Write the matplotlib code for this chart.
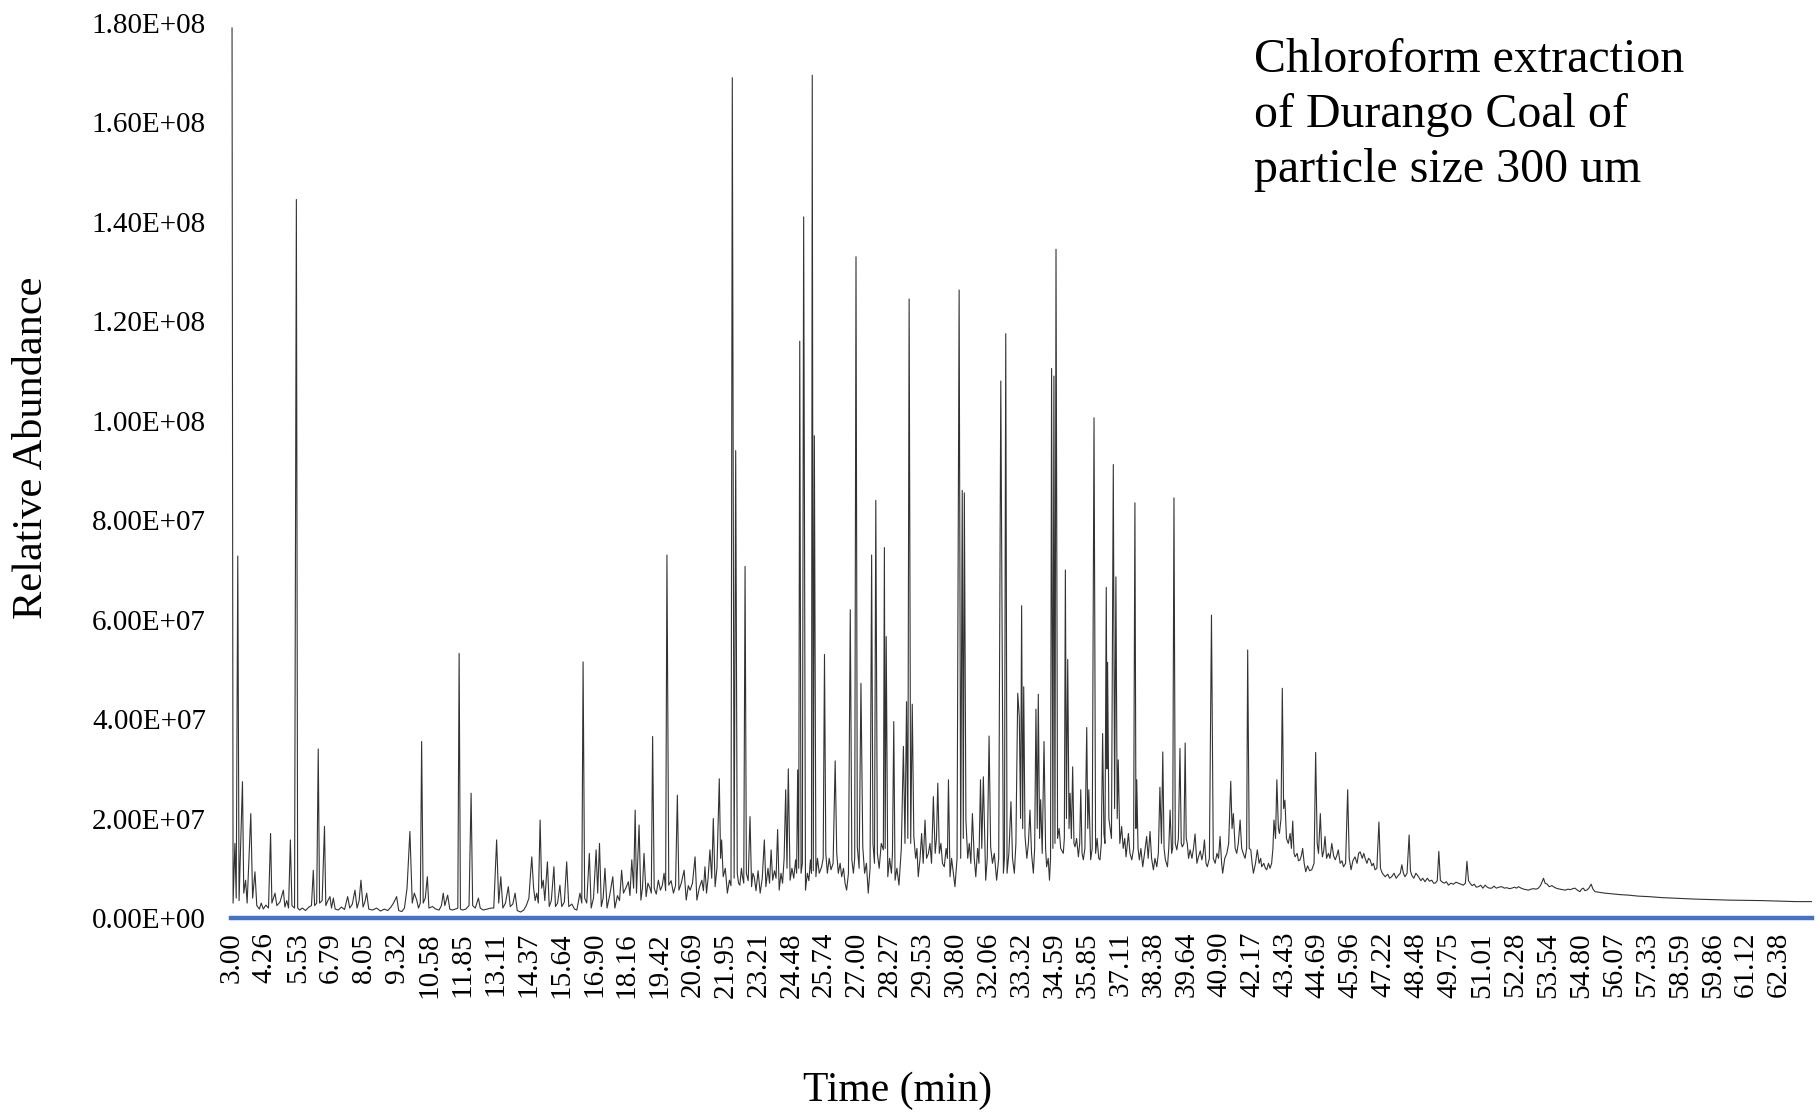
import numpy as np
import matplotlib
matplotlib.use('Agg')
import matplotlib.pyplot as plt

# GC-MS total ion chromatogram, abundance in units of 1e6 counts
peak_time = [3.00, 3.22, 5.47, 6.31, 10.28, 11.72, 16.48, 19.15, 19.70,
             22.21, 22.34, 22.70, 24.36, 24.80, 24.95, 25.28, 25.36, 25.75,
             26.16, 26.74, 26.96, 27.15, 27.56, 27.72, 28.05, 28.12, 28.41,
             28.78, 28.90, 29.00, 29.12, 30.92, 31.04, 31.12, 32.07, 32.52,
             32.71, 33.17, 33.32, 33.40, 33.87, 33.96, 34.18, 34.47, 34.56,
             34.64, 35.00, 35.09, 35.82, 36.10, 36.43, 36.57, 36.62, 36.84,
             36.94, 37.67, 38.74, 39.17, 39.40, 39.60, 40.61, 42.00, 43.33,
             44.61]
peak_height = [179.0, 72.8, 144.5, 34.0, 35.5, 53.2, 51.5, 36.5, 73.0,
               169.0, 94.0, 70.7, 30.0, 116.0, 141.0, 169.5, 97.0, 53.0,
               31.6, 62.0, 133.0, 47.2, 73.0, 84.0, 74.5, 56.6, 39.5,
               34.5, 43.5, 124.5, 43.0, 126.3, 86.0, 85.5, 36.6, 108.0,
               117.5, 45.2, 62.8, 46.5, 42.0, 45.0, 35.5, 110.5, 109.0,
               134.5, 70.0, 52.0, 38.3, 100.6, 37.1, 66.5, 51.4, 91.2,
               68.6, 83.5, 33.4, 84.5, 34.1, 35.2, 60.9, 53.9, 46.2,
               33.3]

trace_time = [
    3.04, 3.11, 3.16, 3.27, 3.40, 3.45, 3.52, 3.58, 3.72, 3.79, 3.88, 3.95,
    4.05, 4.12, 4.20, 4.30, 4.40, 4.48, 4.53, 4.65, 4.72, 4.84, 4.97, 5.03,
    5.10, 5.17, 5.24, 5.30, 5.40, 5.52, 5.60, 5.70, 5.82, 5.95, 6.05, 6.12,
    6.17, 6.25, 6.36, 6.46, 6.55, 6.60, 6.68, 6.76, 6.82, 6.89, 6.96, 7.08,
    7.20, 7.32, 7.44, 7.52, 7.62, 7.72, 7.80, 7.88, 7.95, 8.03, 8.10, 8.17,
    8.25, 8.40, 8.55, 8.70, 8.85, 8.98, 9.10, 9.20, 9.32, 9.40, 9.52, 9.62,
    9.72, 9.83, 9.92, 10.00, 10.09, 10.16, 10.23, 10.34, 10.42, 10.50, 10.56,
    10.70, 10.82, 10.95, 11.04, 11.11, 11.17, 11.28, 11.36, 11.45, 11.58,
    11.67, 11.77, 11.85, 11.98, 12.10, 12.18, 12.24, 12.34, 12.46, 12.53,
    12.65, 12.80, 12.95, 13.05, 13.16, 13.24, 13.32, 13.40, 13.50, 13.61,
    13.68, 13.78, 13.87, 13.95, 14.08, 14.20, 14.30, 14.40, 14.45, 14.51,
    14.58, 14.64, 14.70, 14.76, 14.83, 14.89, 14.95, 15.01, 15.11, 15.18,
    15.26, 15.36, 15.42, 15.50, 15.59, 15.66, 15.76, 15.85, 15.93, 16.05,
    16.15, 16.24, 16.36, 16.43, 16.54, 16.62, 16.72, 16.79, 16.88, 16.98,
    17.04, 17.11, 17.18, 17.25, 17.32, 17.40, 17.50, 17.62, 17.70, 17.80,
    17.88, 17.96, 18.03, 18.12, 18.22, 18.28, 18.35, 18.42, 18.48, 18.53,
    18.63, 18.70, 18.76, 18.82, 18.90, 18.97, 19.05, 19.10, 19.21, 19.29,
    19.37, 19.45, 19.52, 19.59, 19.65, 19.77, 19.86, 19.95, 20.03, 20.10,
    20.16, 20.25, 20.36, 20.44, 20.52, 20.59, 20.68, 20.78, 20.85, 20.94,
    21.04, 21.10, 21.16, 21.22, 21.28, 21.35, 21.42, 21.48, 21.55, 21.62,
    21.71, 21.76, 21.80, 21.86, 21.94, 22.02, 22.10, 22.16, 22.28, 22.40,
    22.45, 22.50, 22.56, 22.60, 22.65, 22.75, 22.82, 22.89, 22.95, 23.00,
    23.05, 23.12, 23.20, 23.28, 23.36, 23.44, 23.50, 23.58, 23.64, 23.70,
    23.76, 23.83, 23.89, 23.95, 24.01, 24.08, 24.14, 24.20, 24.26, 24.31,
    24.43, 24.50, 24.57, 24.64, 24.68, 24.72, 24.76, 24.85, 24.90, 25.02,
    25.09, 25.15, 25.21, 25.25, 25.32, 25.42, 25.48, 25.55, 25.64, 25.70,
    25.80, 25.86, 25.93, 26.00, 26.08, 26.22, 26.28, 26.35, 26.41, 26.48,
    26.54, 26.60, 26.67, 26.80, 26.86, 26.91, 27.01, 27.08, 27.22, 27.29,
    27.36, 27.43, 27.50, 27.61, 27.67, 27.78, 27.85, 27.93, 28.01, 28.08,
    28.18, 28.25, 28.32, 28.36, 28.46, 28.53, 28.61, 28.70, 28.84, 28.95,
    29.06, 29.18, 29.25, 29.30, 29.35, 29.42, 29.48, 29.54, 29.61, 29.67,
    29.74, 29.80, 29.86, 29.93, 30.00, 30.05, 30.10, 30.16, 30.22, 30.28,
    30.35, 30.42, 30.47, 30.51, 30.57, 30.63, 30.70, 30.76, 30.84, 30.98,
    31.08, 31.18, 31.25, 31.31, 31.37, 31.43, 31.50, 31.56, 31.63, 31.68,
    31.74, 31.79, 31.85, 31.94, 32.00, 32.13, 32.20, 32.27, 32.36, 32.44,
    32.62, 32.66, 32.76, 32.83, 32.91, 32.97, 33.04, 33.10, 33.23, 33.28,
    33.36, 33.45, 33.52, 33.58, 33.64, 33.70, 33.77, 33.82, 33.92, 34.01,
    34.05, 34.11, 34.24, 34.28, 34.34, 34.39, 34.43, 34.52, 34.60, 34.70,
    34.76, 34.82, 34.92, 34.96, 35.04, 35.14, 35.18, 35.23, 35.28, 35.33,
    35.37, 35.43, 35.50, 35.55, 35.59, 35.64, 35.69, 35.75, 35.86, 35.90,
    35.97, 36.03, 36.16, 36.22, 36.28, 36.33, 36.38, 36.48, 36.52, 36.60,
    36.67, 36.71, 36.77, 36.89, 36.99, 37.03, 37.09, 37.16, 37.22, 37.28,
    37.33, 37.38, 37.42, 37.48, 37.55, 37.62, 37.71, 37.74, 37.79, 37.84,
    37.90, 37.97, 38.04, 38.12, 38.18, 38.25, 38.31, 38.38, 38.44, 38.51,
    38.57, 38.63, 38.69, 38.79, 38.84, 38.92, 38.97, 39.02, 39.08, 39.12,
    39.22, 39.28, 39.34, 39.45, 39.49, 39.55, 39.64, 39.68, 39.73, 39.79,
    39.86, 39.92, 39.98, 40.05, 40.11, 40.18, 40.24, 40.29, 40.34, 40.40,
    40.45, 40.53, 40.68, 40.75, 40.82, 40.88, 40.94, 41.00, 41.04, 41.12,
    41.20, 41.27, 41.35, 41.40, 41.45, 41.52, 41.58, 41.64, 41.71, 41.77,
    41.83, 41.90, 41.96, 42.06, 42.12, 42.17, 42.22, 42.30, 42.37, 42.44,
    42.50, 42.54, 42.62, 42.68, 42.73, 42.80, 42.86, 42.92, 42.97, 43.01,
    43.07, 43.12, 43.18, 43.22, 43.28, 43.38, 43.43, 43.49, 43.56, 43.63,
    43.68, 43.73, 43.78, 43.82, 43.90, 43.95, 44.01, 44.06, 44.11, 44.17,
    44.23, 44.30, 44.38, 44.46, 44.55, 44.67, 44.72, 44.79, 44.84, 44.87,
    44.92, 44.97, 45.03, 45.10, 45.16, 45.23, 45.30, 45.36, 45.42, 45.48,
    45.55, 45.62, 45.68, 45.76, 45.84, 45.90, 45.97, 46.04, 46.12, 46.20,
    46.26, 46.32, 46.40, 46.46, 46.51, 46.58, 46.64, 46.70, 46.77, 46.83,
    46.89, 46.96, 47.04, 47.10, 47.17, 47.28, 47.38, 47.45, 47.53, 47.62,
    47.70, 47.79, 47.86, 47.92, 47.98, 48.04, 48.12, 48.20, 48.25, 48.30,
    48.38, 48.46, 48.56, 48.65, 48.72, 48.81, 48.90, 48.98, 49.07, 49.14,
    49.20, 49.28, 49.34, 49.40, 49.45, 49.55, 49.63, 49.71, 49.80, 49.90,
    50.00, 50.09, 50.18, 50.28, 50.36, 50.42, 50.48, 50.54, 50.62, 50.70,
    50.78, 50.86, 50.95, 51.03, 51.12, 51.20, 51.28, 51.37, 51.46, 51.55,
    51.65, 51.76, 51.86, 51.95, 52.05, 52.14, 52.25, 52.32, 52.40, 52.50,
    52.60, 52.70, 52.78, 52.88, 52.98, 53.08, 53.16, 53.24, 53.30, 53.36,
    53.42, 53.50, 53.58, 53.68, 53.80, 53.90, 54.00, 54.10, 54.19, 54.30,
    54.40, 54.48, 54.57, 54.66, 54.76, 54.82, 54.89, 54.95, 55.02, 55.10,
    55.19, 55.26, 55.34, 55.45, 55.58, 55.72, 55.90, 56.10, 56.30, 56.62,
    57.00, 57.40, 57.90, 58.50, 59.18, 59.80, 60.46, 61.10, 61.74, 62.40,
    63.02, 63.66]
trace_level = [
    3.0, 15.0, 4.0, 3.5, 27.4, 5.0, 7.6, 3.0, 21.0, 4.0, 9.3, 2.5,
    1.8, 3.0, 1.8, 2.6, 2.0, 17.0, 3.0, 5.0, 2.5, 3.2, 5.6, 2.2,
    3.5, 2.0, 15.7, 2.5, 2.0, 2.0, 1.6, 2.0, 1.5, 2.2, 2.5, 9.6,
    2.5, 3.0, 3.0, 3.5, 18.4, 2.5, 3.5, 4.3, 2.0, 4.0, 1.8, 1.6,
    2.2, 1.7, 4.3, 2.0, 2.8, 5.6, 2.0, 3.5, 7.6, 2.2, 3.2, 5.0,
    1.8, 1.6, 2.0, 1.4, 1.8, 1.5, 2.2, 3.0, 4.3, 1.5, 1.3, 2.0,
    6.0, 17.4, 3.0, 5.0, 3.6, 2.0, 3.0, 3.0, 4.0, 8.3, 2.0,
    2.3, 1.8, 1.6, 2.5, 5.0, 2.5, 4.6, 1.8, 1.6, 1.8,
    2.0, 1.8, 1.6, 1.8, 2.5, 25.1, 2.5, 2.0, 4.0, 2.0,
    1.6, 1.8, 2.0, 2.0, 15.7, 3.0, 8.3, 2.0, 3.0, 6.3,
    2.3, 2.8, 5.0, 1.5, 1.2, 1.6, 2.5, 4.0, 8.0, 12.3,
    6.0, 3.5, 5.0, 3.0, 19.7, 6.0, 7.6, 3.5, 11.3, 2.3,
    3.5, 10.3, 2.3, 3.0, 6.6, 2.3, 3.2, 11.3, 2.3, 2.8,
    1.8, 1.6, 5.0, 3.0, 4.0, 3.0, 13.0, 2.0, 4.0, 13.7,
    5.0, 15.0, 2.3, 4.0, 10.0, 2.0, 4.5, 8.3, 2.0, 4.5,
    3.5, 9.6, 5.0, 6.0, 7.3, 4.5, 11.7, 6.0, 21.7, 5.0,
    18.7, 3.6, 6.0, 13.0, 4.3, 7.0, 6.0, 5.0, 6.0, 4.8,
    7.6, 5.6, 6.5, 9.0, 5.5, 6.6, 7.5, 5.0, 6.5, 24.7,
    5.6, 7.0, 9.6, 3.6, 6.5, 5.6, 7.0, 12.3, 3.6, 6.0,
    7.6, 5.5, 10.3, 5.0, 8.0, 13.7, 8.0, 20.0, 6.3, 10.0,
    28.0, 12.0, 15.7, 8.3, 10.0, 5.0, 7.6, 6.5, 8.0, 9.0,
    7.0, 6.6, 10.0, 8.3, 7.0, 9.0, 7.5, 20.4, 6.3, 9.0,
    8.3, 5.5, 9.5, 5.0, 8.0, 15.7, 6.3, 10.0, 7.0, 13.7,
    7.6, 9.5, 8.0, 17.8, 5.6, 9.0, 7.0, 12.0, 25.8, 10.0,
    7.6, 10.0, 8.0, 11.7, 9.0, 29.8, 10.0, 9.0, 11.0, 5.6,
    9.0, 7.5, 11.7, 9.0, 9.5, 8.3, 12.0, 9.0, 10.3, 12.0,
    13.0, 9.0, 12.0, 9.7, 11.0, 13.0, 9.0, 11.0, 8.3, 10.0,
    7.0, 5.6, 9.0, 11.7, 9.0, 12.0, 14.3, 10.0, 14.3, 9.0,
    11.0, 5.0, 10.0, 15.0, 11.0, 13.0, 10.0, 15.0, 13.7, 14.0,
    8.3, 12.0, 9.0, 13.0, 7.6, 10.0, 6.6, 14.0, 15.0, 16.0,
    15.0, 16.4, 12.0, 14.0, 8.3, 12.0, 17.0, 11.0, 19.7, 12.0,
    13.0, 15.0, 11.0, 24.4, 13.0, 16.0, 27.1, 13.0, 15.0, 11.0,
    10.3, 14.0, 12.0, 27.8, 8.3, 12.0, 9.0, 6.3, 12.0, 12.0,
    16.0, 19.7, 12.0, 15.0, 11.0, 21.0, 12.0, 8.3, 14.0, 11.0,
    27.8, 14.0, 28.4, 7.6, 12.0, 14.3, 11.0, 13.0, 7.6, 12.0,
    9.0, 12.0, 9.0, 13.0, 23.4, 12.0, 9.0, 15.0, 40.5, 20.0,
    18.0, 16.4, 12.0, 15.0, 21.7, 13.0, 9.0, 14.0, 18.0, 16.0,
    23.8, 13.0, 14.0, 10.3, 12.0, 7.6, 12.0, 14.0, 15.0, 16.0,
    18.0, 14.0, 13.0, 16.0, 20.0, 18.0, 25.1, 16.0, 30.4, 15.0,
    14.3, 16.0, 12.3, 15.0, 25.8, 13.0, 11.7, 14.0, 18.0, 25.8,
    11.7, 14.0, 13.0, 16.0, 12.0, 11.7, 15.0, 17.0, 15.0, 30.0,
    20.0, 18.4, 16.0, 22.0, 20.0, 31.8, 15.0, 18.4, 14.0, 16.0,
    12.3, 15.0, 17.0, 13.0, 11.7, 14.0, 18.0, 27.8, 14.0, 11.7,
    14.0, 10.3, 13.0, 16.4, 12.0, 17.4, 12.0, 9.7, 12.0, 10.3,
    13.0, 26.3, 15.0, 14.0, 11.7, 10.3, 14.0, 21.7, 13.0, 14.0,
    15.0, 13.7, 16.0, 15.0, 14.3, 15.0, 16.0, 15.0, 12.0, 13.7,
    12.0, 14.0, 16.9, 11.0, 12.3, 13.5, 11.7, 13.0, 15.7, 11.0,
    10.3, 12.0, 12.0, 11.0, 13.0, 12.0, 16.4, 11.0, 9.0, 12.0,
    13.0, 15.0, 27.5, 18.0, 21.0, 14.0, 13.0, 15.0, 19.7, 14.0,
    13.0, 12.0, 14.0, 14.0, 13.7, 11.0, 9.0, 11.0, 13.7, 11.0,
    12.0, 10.3, 11.0, 10.0, 9.7, 11.0, 10.0, 11.0, 14.0, 19.7,
    16.0, 27.8, 18.0, 17.0, 20.0, 22.0, 23.7, 16.0, 15.0, 17.0,
    14.0, 19.5, 13.0, 12.3, 13.0, 11.5, 11.7, 12.5, 14.0, 11.0,
    9.3, 10.5, 9.5, 9.7, 11.0, 15.0, 13.0, 21.0, 14.0, 12.3,
    13.5, 16.4, 12.0, 13.0, 12.0, 15.0, 12.5, 11.7, 12.5, 13.7,
    11.0, 11.5, 10.3, 11.0, 25.8, 12.0, 9.7, 11.5, 12.3, 11.0,
    13.0, 13.3, 12.0, 13.0, 12.0, 11.0, 12.0, 11.7, 10.5, 11.0,
    9.7, 10.0, 19.3, 10.0, 9.0, 8.3, 8.8, 8.0, 8.3, 9.0,
    8.0, 8.6, 9.0, 10.7, 9.0, 8.3, 9.0, 16.7, 9.5, 8.6,
    8.0, 9.0, 8.3, 7.5, 8.0, 7.3, 8.0, 7.4, 7.6, 7.0,
    7.0, 7.5, 13.4, 7.6, 7.3, 7.0, 7.3, 6.6, 7.0, 6.8,
    7.2, 7.0, 6.8, 6.6, 7.0, 11.4, 7.5, 7.0, 6.5, 6.8,
    6.2, 6.3, 6.6, 6.0, 6.6, 6.2, 6.0, 6.0, 6.4, 6.0,
    6.2, 6.3, 6.0, 6.1, 5.9, 6.0, 6.2, 6.0, 6.3, 6.0,
    5.8, 5.7, 5.6, 5.8, 5.9, 5.8, 6.0, 6.5, 7.2, 8.0,
    7.0, 6.8, 6.3, 6.5, 6.1, 5.9, 5.8, 5.7, 5.6, 5.8,
    5.7, 5.9, 6.0, 5.6, 5.3, 5.8, 6.0, 5.5, 5.6, 6.0,
    6.8, 5.8, 5.3, 5.2, 5.1, 5.0, 4.9, 4.8, 4.7, 4.6,
    4.4, 4.3, 4.1, 3.95, 3.8, 3.7, 3.6, 3.55, 3.5, 3.4,
    3.3, 3.3]

time_labels = ['3.00', '4.26', '5.53', '6.79', '8.05', '9.32', '10.58',
               '11.85', '13.11', '14.37', '15.64', '16.90', '18.16', '19.42',
               '20.69', '21.95', '23.21', '24.48', '25.74', '27.00', '28.27',
               '29.53', '30.80', '32.06', '33.32', '34.59', '35.85', '37.11',
               '38.38', '39.64', '40.90', '42.17', '43.43', '44.69', '45.96',
               '47.22', '48.48', '49.75', '51.01', '52.28', '53.54', '54.80',
               '56.07', '57.33', '58.59', '59.86', '61.12', '62.38']
abundance_ticks = [0, 2e7, 4e7, 6e7, 8e7, 1e8, 1.2e8, 1.4e8, 1.6e8, 1.8e8]

# merge the peak apexes into the background trace
t = np.array(peak_time + trace_time)
v = np.array(peak_height + trace_level) * 1e6
order = np.argsort(t, kind='stable')
t, v = t[order], v[order]

plt.rcParams['font.family'] = ['Liberation Serif', 'DejaVu Serif']

W, H = 1820, 1116
fig = plt.figure(figsize=(W / 100, H / 100), dpi=100)
ax = fig.add_axes([231 / W, 198 / H, 1581 / W, 895 / H])

ax.plot(t, v, color='#333333', lw=0.8)
ax.axhline(0, color='#4472C4', lw=3.2, clip_on=False, zorder=3)

ax.set_xlim(2.96, 63.67)
ax.set_ylim(0, 1.8e8)
ax.set_xticks([float(s) for s in time_labels])
ax.set_xticklabels(time_labels, rotation=90)
ax.set_yticks(abundance_ticks)
ax.set_yticklabels([f'{y:.2E}' for y in abundance_ticks])
ax.tick_params(axis='x', length=0, labelsize=21, pad=10)
ax.tick_params(axis='y', length=0, labelsize=21, pad=18)
for s in ax.spines.values():
    s.set_visible(False)

fig.text(32 / W, 1 - 448 / H, 'Relative Abundance', rotation=90,
         fontsize=30.5, ha='center', va='center')
fig.text(898 / W, 1 - 1091 / H, 'Time (min)', fontsize=30,
         ha='center', va='center')
fig.text(1254 / W, 1 - 115 / H,
         'Chloroform extraction\nof Durango Coal of\nparticle size 300 um',
         fontsize=34.5, ha='left', va='center', linespacing=1.33)

fig.savefig('out.png', dpi=100)
